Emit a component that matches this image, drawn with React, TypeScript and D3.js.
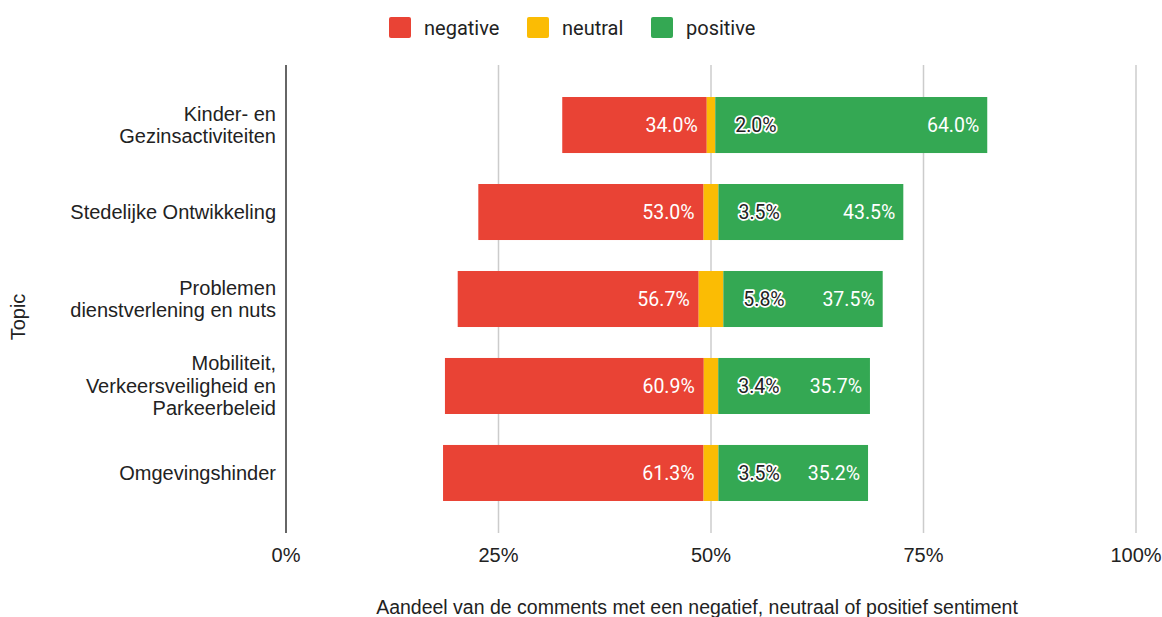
import { useEffect, useRef } from "react";
import * as d3 from "d3";

const topics = [
  "Kinder- en\nGezinsactiviteiten",
  "Stedelijke Ontwikkeling",
  "Problemen\ndienstverlening en nuts",
  "Mobiliteit,\nVerkeersveiligheid en\nParkeerbeleid",
  "Omgevingshinder",
];
const negative = [34.0, 53.0, 56.7, 60.9, 61.3];
const neutral = [2.0, 3.5, 5.8, 3.4, 3.5];
const positive = [64.0, 43.5, 37.5, 35.7, 35.2];
const tickValues = [0, 25, 50, 75, 100];

const COLORS = { negative: "#e94335", neutral: "#fbbc04", positive: "#34a853" };
const AXIS_FONT = "Arial, 'Liberation Sans', sans-serif";
const LABEL_FONT = "Roboto, 'Liberation Sans', sans-serif";

export default function App(): JSX.Element {
  const ref = useRef<SVGSVGElement | null>(null);

  useEffect(() => {
    if (!ref.current) return;
    const W = 1162;
    const H = 617;
    const svg = d3.select(ref.current).attr("width", W).attr("height", H);
    svg.selectAll("*").remove();

    const x = d3.scaleLinear().domain([0, 100]).range([286, 1136]);
    // 5 bands of 56px on an 87px step, inside the plot area
    const y = d3
      .scaleBand<number>()
      .domain(d3.range(topics.length))
      .range([65, 533])
      .paddingInner(0.356)
      .paddingOuter(0.368);

    // gridlines
    svg
      .append("g")
      .selectAll("line")
      .data(tickValues.slice(1))
      .join("line")
      .attr("x1", (d) => x(d))
      .attr("x2", (d) => x(d))
      .attr("y1", 65)
      .attr("y2", 533)
      .attr("stroke", "#cccccc")
      .attr("stroke-width", 1.5);

    // diverging bars: centre of neutral at the 50% mark, each value in half-units
    const rows = topics.map((t, i) => {
      const start = 50 - (negative[i] + neutral[i] / 2) / 2;
      const s1 = start + negative[i] / 2;
      const s2 = s1 + neutral[i] / 2;
      const s3 = s2 + positive[i] / 2;
      return { t, i, start, s1, s2, s3 };
    });

    const bars = svg.append("g");
    rows.forEach((r) => {
      const yy = y(r.i)!;
      const h = y.bandwidth();
      const segs = [
        { a: r.start, b: r.s1, c: COLORS.negative },
        { a: r.s1, b: r.s2, c: COLORS.neutral },
        { a: r.s2, b: r.s3, c: COLORS.positive },
      ];
      bars
        .selectAll(null)
        .data(segs)
        .enter()
        .append("rect")
        .attr("x", (d) => x(d.a))
        .attr("y", yy)
        .attr("width", (d) => x(d.b) - x(d.a))
        .attr("height", h)
        .attr("fill", (d) => d.c);

      const cy = yy + h / 2;
      bars
        .append("text")
        .attr("x", x(r.s1) - 9)
        .attr("y", cy)
        .attr("dy", "0.35em")
        .attr("text-anchor", "end")
        .attr("fill", "#ffffff")
        .attr("font-family", LABEL_FONT)
        .attr("font-size", 19.5)
        .text(`${negative[r.i].toFixed(1)}%`);
      bars
        .append("text")
        .attr("x", x(r.s3) - 8)
        .attr("y", cy)
        .attr("dy", "0.35em")
        .attr("text-anchor", "end")
        .attr("fill", "#ffffff")
        .attr("font-family", LABEL_FONT)
        .attr("font-size", 19.5)
        .text(`${positive[r.i].toFixed(1)}%`);
      bars
        .append("text")
        .attr("x", x(r.s2) + 20)
        .attr("y", cy)
        .attr("dy", "0.35em")
        .attr("text-anchor", "start")
        .attr("fill", "#222222")
        .attr("stroke", "#ffffff")
        .attr("stroke-width", 3.5)
        .attr("stroke-linejoin", "round")
        .attr("paint-order", "stroke")
        .attr("font-family", LABEL_FONT)
        .attr("font-size", 19.5)
        .text(`${neutral[r.i].toFixed(1)}%`);
    });

    // left axis line
    svg.append("line").attr("x1", 286).attr("x2", 286).attr("y1", 65).attr("y2", 533).attr("stroke", "#333").attr("stroke-width", 1.5);

    // category labels
    const cat = svg.append("g").attr("font-family", AXIS_FONT).attr("font-size", 20).attr("fill", "#222");
    rows.forEach((r) => {
      const lines = r.t.split("\n");
      const cy = y(r.i)! + y.bandwidth() / 2;
      const lh = 22.5;
      const t = cat.append("text").attr("text-anchor", "end");
      lines.forEach((l, k) => {
        t.append("tspan")
          .attr("x", 276)
          .attr("y", cy + (k - (lines.length - 1) / 2) * lh)
          .attr("dy", "0.35em")
          .text(l);
      });
    });

    // x tick labels
    svg
      .append("g")
      .selectAll("text")
      .data(tickValues)
      .join("text")
      .attr("x", (d) => x(d))
      .attr("y", 555)
      .attr("dy", "0.35em")
      .attr("text-anchor", "middle")
      .attr("font-family", AXIS_FONT)
      .attr("font-size", 20)
      .attr("fill", "#222")
      .text((d) => `${d}%`);

    // axis titles
    svg
      .append("text")
      .attr("x", 697)
      .attr("y", 607)
      .attr("dy", "0.35em")
      .attr("text-anchor", "middle")
      .attr("font-family", AXIS_FONT)
      .attr("font-size", 19.5)
      .attr("fill", "#222")
      .text("Aandeel van de comments met een negatief, neutraal of positief sentiment");
    svg
      .append("text")
      .attr("transform", "translate(18,317) rotate(-90)")
      .attr("dy", "0.35em")
      .attr("text-anchor", "middle")
      .attr("font-family", AXIS_FONT)
      .attr("font-size", 20)
      .attr("fill", "#222")
      .text("Topic");

    // legend
    const legend = [
      { name: "negative", c: COLORS.negative, x: 389 },
      { name: "neutral", c: COLORS.neutral, x: 527 },
      { name: "positive", c: COLORS.positive, x: 651 },
    ];
    const lg = svg.append("g").selectAll("g").data(legend).join("g").attr("transform", (d) => `translate(${d.x},17)`);
    lg.append("rect").attr("width", 22).attr("height", 21).attr("rx", 2).attr("fill", (d) => d.c);
    lg.append("text")
      .attr("x", 35)
      .attr("y", 11)
      .attr("dy", "0.35em")
      .attr("font-family", LABEL_FONT)
      .attr("font-size", 20)
      .attr("fill", "#222")
      .text((d) => d.name);
  }, []);

  return (
    <div style={{ position: "fixed", left: 0, top: 0, width: 1162, height: 617, overflow: "hidden" }}>
      <svg ref={ref} style={{ display: "block", background: "#fff" }} />
    </div>
  );
}
